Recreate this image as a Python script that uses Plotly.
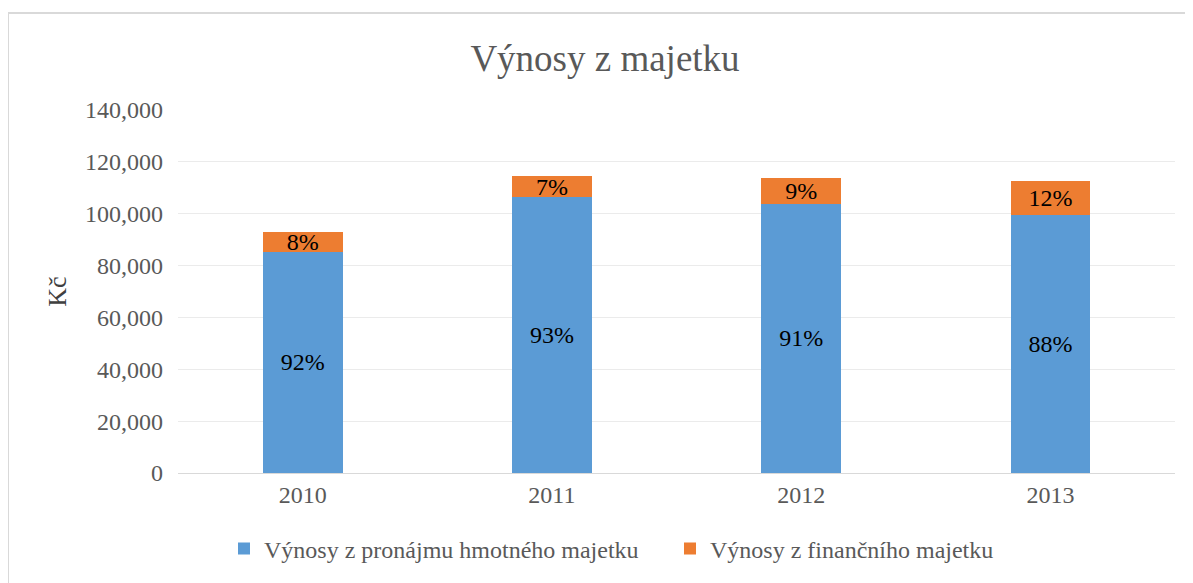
import plotly.graph_objects as go

years = ["2010", "2011", "2012", "2013"]
pronajem = [85300, 106400, 103800, 99500]
financni = [7600, 8100, 9800, 13300]

names = ["Výnosy z pronájmu hmotného majetku", "Výnosy z finančního majetku"]
colors = ["#5b9bd5", "#ed7d31"]

totals = [a + b for a, b in zip(pronajem, financni)]
pct_p = [f"{round(100 * a / t)}%" for a, t in zip(pronajem, totals)]
pct_f = [f"{round(100 * b / t)}%" for b, t in zip(financni, totals)]

font = "Liberation Serif"
grey = "#595959"

# page body has an 8px margin, so the figure is a bit smaller than the window
W, H = 1185, 575
L, R, T, B = 170, 18, 102, 110

fig = go.Figure()
for vals, txt, name, col in [(pronajem, pct_p, names[0], colors[0]),
                             (financni, pct_f, names[1], colors[1])]:
    fig.add_trace(go.Bar(
        x=years, y=vals, name=name, marker_color=col, marker_line_width=0,
        text=txt, textposition="inside", insidetextanchor="middle",
        textfont=dict(family=font, size=24, color="black"),
        textangle=0, constraintext="none", cliponaxis=False,
    ))

pw, ph = W - L - R, H - T - B
fig.update_layout(
    barmode="stack", bargap=0.68,
    width=W, height=H,
    margin=dict(l=L, r=R, t=T, b=B),
    paper_bgcolor="white", plot_bgcolor="white",
    font=dict(family=font, color=grey),
    title=dict(text="Výnosy z majetku", x=597 / W, xanchor="center", y=1 - 50 / H, yanchor="middle",
               font=dict(size=37, color=grey, family=font)),
    legend=dict(orientation="h", x=(662 - L) / pw, xanchor="center", y=-76 / ph, yanchor="middle",
                font=dict(size=24, color=grey, family=font), traceorder="normal",
                itemwidth=30, entrywidth=401, entrywidthmode="pixels"),
    xaxis=dict(tickfont=dict(size=24, color=grey), showline=True, linecolor="#d9d9d9",
               linewidth=1, ticks=""),
    yaxis=dict(range=[0, 140000], dtick=20000, tickformat=",", gridcolor="#ebebeb",
               tickfont=dict(size=24, color=grey), zeroline=False, ticks="",
               ticklabelstandoff=14,
               title=dict(text="Kč", font=dict(size=26, color="#404040"), standoff=10)),
    shapes=[dict(type="rect", xref="paper", yref="paper",
                 x0=-L / pw, x1=1.05, y0=-0.5, y1=1 + (T - 5) / ph,
                 line=dict(color="#d9d9d9", width=2), layer="below")],
)

fig.write_html("out.html")
